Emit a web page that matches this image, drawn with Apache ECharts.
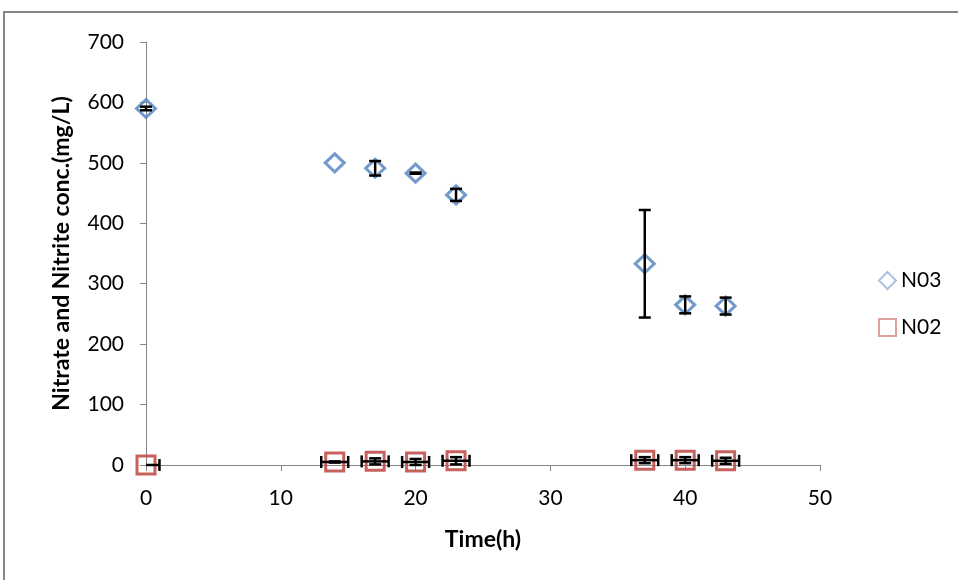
<!DOCTYPE html>
<html>
<head>
<meta charset="utf-8">
<script src="https://cdn.jsdelivr.net/npm/echarts@6/dist/echarts.min.js"></script>
<style>
  html, body { margin: 0; padding: 0; background: #fff; }
  #chart { width: 958px; height: 580px; }
</style>
</head>
<body>
<div id="chart"></div>
<script>
// Sampling times (h)
const times = [0, 14, 17, 20, 23, 37, 40, 43];
// Nitrate (NO3) concentration, mg/L, and its standard deviation
const no3 = [590, 500, 491, 483, 447, 333, 265, 263];
const no3Err = [3, 0, 12, 1, 10, 89, 14, 14];
// Nitrite (NO2) concentration, mg/L, and its standard deviation
const no2 = [0, 5, 6, 5, 7, 8, 8, 7];
const no2Err = [0, 1, 5, 5, 6, 5, 5, 5];
// Horizontal (time) uncertainty on the nitrite points
const no2TimeErr = [1, 1, 1, 1, 1, 1, 1, 1];

const xTicks = [0, 10, 20, 30, 40, 50];
const yTicks = [0, 100, 200, 300, 400, 500, 600, 700];

const FONT = 'Lato, "Open Sans", sans-serif';

const chart = echarts.init(document.getElementById('chart'), null, { renderer: 'canvas' });

// Draws vertical and/or horizontal error bars with end caps
function errorBarRender(params, api) {
  const x = api.value(0), y = api.value(1);
  const xe = api.value(2), ye = api.value(3);
  const children = [];
  const style = { stroke: '#000', lineWidth: 2.5 };
  const cap = 6;
  if (ye > 0) {
    const top = api.coord([x, y + ye]);
    const bot = api.coord([x, y - ye]);
    children.push({ type: 'line', shape: { x1: top[0], y1: top[1], x2: bot[0], y2: bot[1] }, style });
    children.push({ type: 'line', shape: { x1: top[0] - cap, y1: top[1], x2: top[0] + cap, y2: top[1] }, style });
    children.push({ type: 'line', shape: { x1: bot[0] - cap, y1: bot[1], x2: bot[0] + cap, y2: bot[1] }, style });
  }
  if (xe > 0) {
    const l = api.coord([Math.max(x - xe, 0), y]);
    const r = api.coord([x + xe, y]);
    children.push({ type: 'line', shape: { x1: l[0], y1: l[1], x2: r[0], y2: r[1] }, style });
    if (x - xe >= 0) {
      children.push({ type: 'line', shape: { x1: l[0], y1: l[1] - cap, x2: l[0], y2: l[1] + cap }, style });
    }
    children.push({ type: 'line', shape: { x1: r[0], y1: r[1] - cap, x2: r[0], y2: r[1] + cap }, style });
  }
  return { type: 'group', children };
}

const no3Points = times.map((t, i) => [t, no3[i]]);
const no2Points = times.map((t, i) => [t, no2[i]]);
const no3Bars = times.map((t, i) => [t, no3[i], 0, no3Err[i]]);
const no2Bars = times.map((t, i) => [t, no2[i], no2TimeErr[i], no2Err[i]]);

chart.setOption({
  animation: false,
  backgroundColor: '#fff',
  textStyle: { fontFamily: FONT },
  graphic: [{
    type: 'rect',
    shape: { x: 4, y: 12, width: 960, height: 600 },
    style: { fill: 'none', stroke: '#868686', lineWidth: 2 },
    silent: true
  }],
  grid: { left: 146, right: 138, top: 42, bottom: 115, containLabel: false },
  legend: {
    orient: 'vertical',
    left: 873,
    top: 265,
    itemGap: 26,
    itemWidth: 17,
    itemHeight: 17,
    textStyle: { fontFamily: FONT, fontSize: 21, color: '#000' },
    data: [
      { name: 'N03', icon: 'diamond', itemStyle: { color: 'rgba(0,0,0,0)', borderColor: '#95B3D7', borderWidth: 2 } },
      { name: 'N02', icon: 'rect', itemStyle: { color: 'rgba(0,0,0,0)', borderColor: '#D99694', borderWidth: 2 } }
    ]
  },
  xAxis: {
    type: 'value',
    min: 0, max: 50, interval: 10,
    name: 'Time(h)',
    nameLocation: 'middle',
    nameGap: 63,
    nameTextStyle: { fontFamily: FONT, fontSize: 23, fontWeight: 'bold', color: '#000' },
    axisLine: { show: true, lineStyle: { color: '#868686', width: 1 } },
    axisTick: { show: true, inside: false, length: 6, lineStyle: { color: '#868686' } },
    axisLabel: { fontFamily: FONT, fontSize: 21, color: '#000', margin: 23,
      formatter: v => xTicks.includes(v) ? String(v) : '' },
    splitLine: { show: false }
  },
  yAxis: {
    type: 'value',
    min: 0, max: 700, interval: 100,
    name: 'Nitrate and Nitrite conc.(mg/L)',
    nameLocation: 'middle',
    nameGap: 73,
    nameRotate: 90,
    nameTextStyle: { fontFamily: FONT, fontSize: 23, fontWeight: 'bold', color: '#000' },
    axisLine: { show: true, lineStyle: { color: '#868686', width: 1 } },
    axisTick: { show: true, inside: false, length: 6, lineStyle: { color: '#868686' } },
    axisLabel: { fontFamily: FONT, fontSize: 21, color: '#000', margin: 22,
      formatter: v => yTicks.includes(v) ? String(v) : '' },
    splitLine: { show: false }
  },
  series: [
    {
      name: 'N03',
      type: 'scatter',
      symbol: 'diamond',
      symbolSize: [19, 18],
      itemStyle: { color: 'rgba(0,0,0,0)', borderColor: '#4F81BD', borderWidth: 3 },
      data: no3Points,
      z: 2
    },
    {
      name: 'N02',
      type: 'scatter',
      symbol: 'rect',
      symbolSize: [18, 18],
      itemStyle: { color: 'rgba(0,0,0,0)', borderColor: '#C0504D', borderWidth: 3, opacity: 0.9 },
      data: no2Points,
      z: 2
    },
    {
      name: 'no3-error',
      type: 'custom',
      renderItem: errorBarRender,
      data: no3Bars,
      z: 5,
      silent: true
    },
    {
      name: 'no2-error',
      type: 'custom',
      renderItem: errorBarRender,
      data: no2Bars,
      z: 5,
      silent: true
    }
  ]
});
</script>
</body>
</html>
